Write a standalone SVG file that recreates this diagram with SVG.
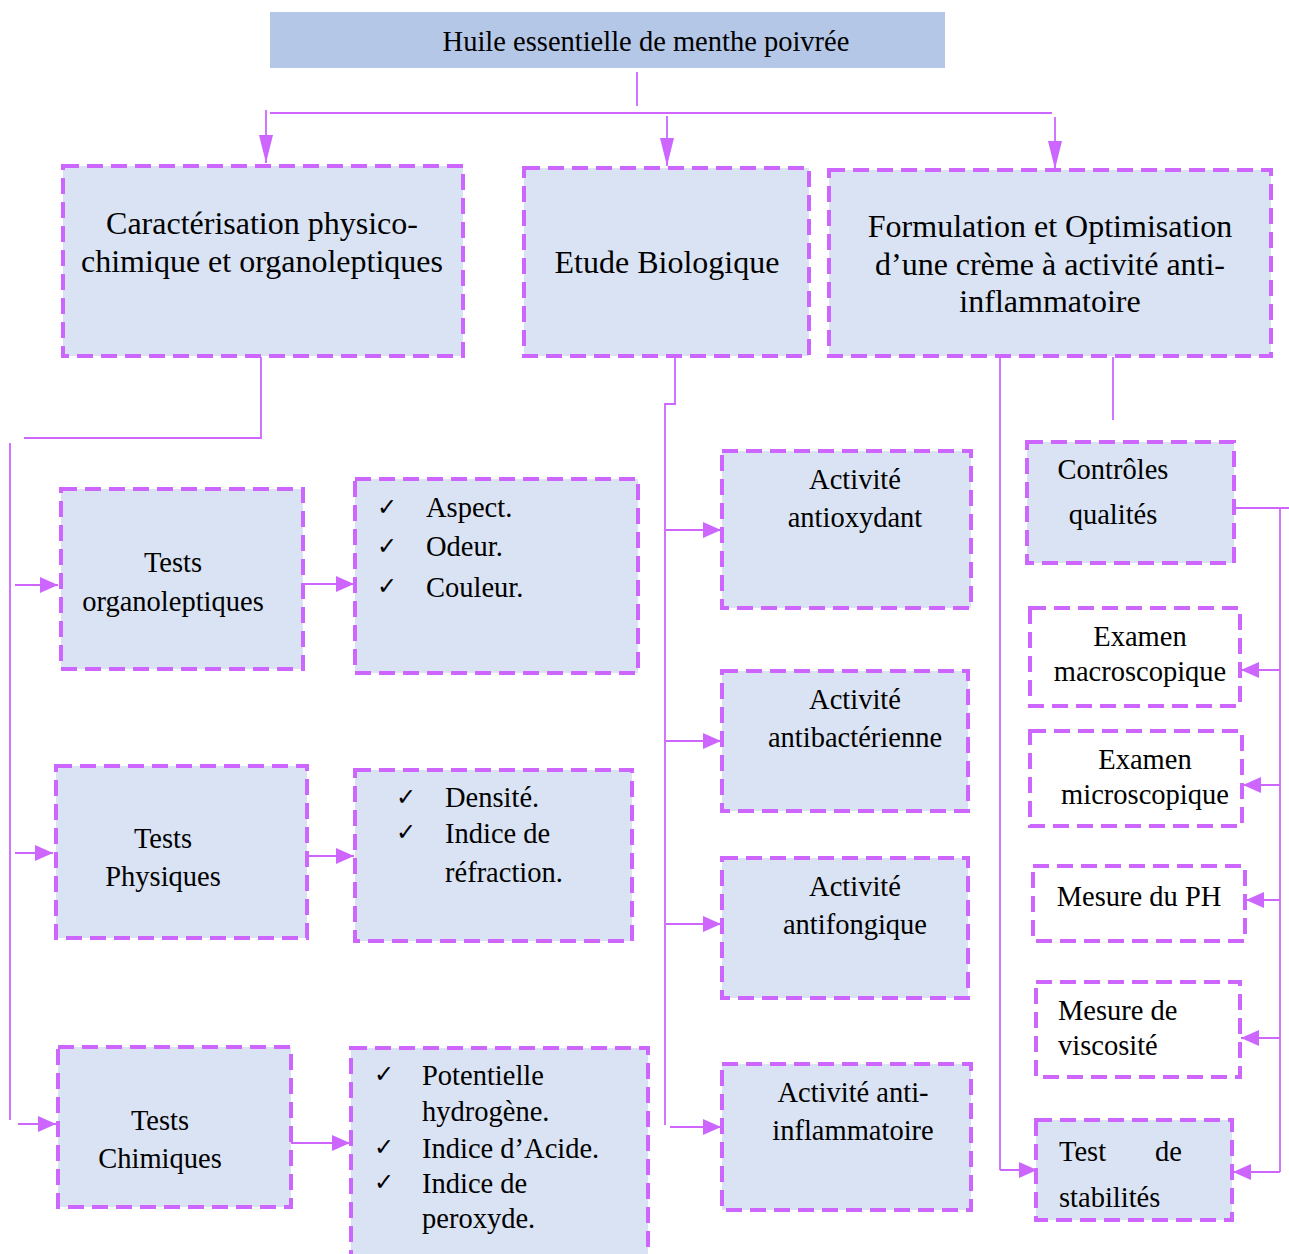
<svg xmlns="http://www.w3.org/2000/svg" width="1289" height="1254" viewBox="0 0 1289 1254">
<defs>
<style>
.box{fill:#dae3f3;stroke:#cc66ff;stroke-width:4;stroke-dasharray:16 8;}
.wbox{fill:#ffffff;stroke:#cc66ff;stroke-width:4;stroke-dasharray:16 8;}
.ln{fill:none;stroke:#cc66ff;stroke-width:1.8;}
.t{font-family:"Liberation Serif","Times New Roman",serif;fill:#000;}
.t1{font-size:32px;text-anchor:middle;}
.t2{font-size:28.5px;text-anchor:middle;}
.tl{font-size:28.5px;}
.ck{font-family:"DejaVu Sans",sans-serif;font-size:24px;fill:#000;}
</style>
<marker id="av" viewBox="0 0 10 10" refX="10" refY="5" markerWidth="28" markerHeight="14" markerUnits="userSpaceOnUse" orient="auto" preserveAspectRatio="none"><path d="M0,0 L10,5 L0,10 z" fill="#cc66ff"/></marker>
<marker id="ah" viewBox="0 0 10 10" refX="10" refY="5" markerWidth="18" markerHeight="16" markerUnits="userSpaceOnUse" orient="auto" preserveAspectRatio="none"><path d="M0,0 L10,5 L0,10 z" fill="#cc66ff"/></marker>
</defs>
<rect width="1289" height="1254" fill="#ffffff"/>

<g id="connectors">
<line class="ln" x1="637" y1="72" x2="637" y2="106"/>
<line class="ln" x1="270" y1="113" x2="1052" y2="113"/>
<line class="ln" x1="266" y1="110" x2="266" y2="163" marker-end="url(#av)"/>
<line class="ln" x1="667" y1="116" x2="667" y2="166" marker-end="url(#av)"/>
<line class="ln" x1="1055" y1="117" x2="1055" y2="169" marker-end="url(#av)"/>
<polyline class="ln" points="261,357 261,438 24,438"/>
<line class="ln" x1="10" y1="443" x2="10" y2="1120"/>
<line class="ln" x1="15" y1="585" x2="58" y2="585" marker-end="url(#ah)"/>
<line class="ln" x1="15" y1="853" x2="53" y2="853" marker-end="url(#ah)"/>
<line class="ln" x1="18" y1="1124" x2="56" y2="1124" marker-end="url(#ah)"/>
<line class="ln" x1="303" y1="584" x2="354" y2="584" marker-end="url(#ah)"/>
<line class="ln" x1="307" y1="856" x2="354" y2="856" marker-end="url(#ah)"/>
<line class="ln" x1="291" y1="1143" x2="350" y2="1143" marker-end="url(#ah)"/>
<polyline class="ln" points="675,357 675,404 665,404 665,1125"/>
<line class="ln" x1="666" y1="530" x2="721" y2="530" marker-end="url(#ah)"/>
<line class="ln" x1="666" y1="741" x2="721" y2="741" marker-end="url(#ah)"/>
<line class="ln" x1="666" y1="924" x2="721" y2="924" marker-end="url(#ah)"/>
<line class="ln" x1="670" y1="1127" x2="721" y2="1127" marker-end="url(#ah)"/>
<line class="ln" x1="1000" y1="357" x2="1000" y2="1170"/>
<line class="ln" x1="1000" y1="1170" x2="1037" y2="1170" stroke-width="3" marker-end="url(#ah)"/>
<line class="ln" x1="1113" y1="357" x2="1113" y2="420"/>
<polyline class="ln" points="1235,508 1289,508"/>
<line class="ln" x1="1280" y1="508" x2="1280" y2="1172"/>
<line class="ln" x1="1280" y1="670" x2="1241" y2="670" marker-end="url(#ah)"/>
<line class="ln" x1="1280" y1="785" x2="1243" y2="785" marker-end="url(#ah)"/>
<line class="ln" x1="1280" y1="900" x2="1246" y2="900" marker-end="url(#ah)"/>
<line class="ln" x1="1280" y1="1038" x2="1241" y2="1038" marker-end="url(#ah)"/>
<line class="ln" x1="1280" y1="1172" x2="1233" y2="1172" marker-end="url(#ah)"/>
</g>

<g id="n-root">
<rect x="270" y="12" width="675" height="56" fill="#b4c7e7"/>
<text class="t" x="646" y="51" font-size="28.5" text-anchor="middle">Huile essentielle de menthe poivrée</text>
</g>

<g id="n-caract">
<rect class="box" x="63" y="166" width="400" height="190"/>
<text class="t t1" x="262" y="234">Caractérisation physico-</text>
<text class="t t1" x="262" y="272">chimique et organoleptiques</text>
</g>
<g id="n-bio">
<rect class="box" x="524" y="168" width="285" height="188"/>
<text class="t t1" x="667" y="273">Etude Biologique</text>
</g>
<g id="n-form">
<rect class="box" x="829" y="170" width="442" height="186"/>
<text class="t t1" x="1050" y="237">Formulation et Optimisation</text>
<text class="t t1" x="1050" y="275">d’une crème à activité anti-</text>
<text class="t t1" x="1050" y="312">inflammatoire</text>
</g>

<g id="n-organo">
<rect class="box" x="61" y="489" width="242" height="180"/>
<text class="t t2" x="173" y="572">Tests</text>
<text class="t t2" x="173" y="611">organoleptiques</text>
</g>
<g id="n-list1">
<rect class="box" x="355" y="479" width="283" height="194"/>
<text class="ck" x="377" y="515">✓</text>
<text class="ck" x="377" y="554">✓</text>
<text class="ck" x="377" y="594">✓</text>
<text class="t tl" x="426" y="517">Aspect.</text>
<text class="t tl" x="426" y="556">Odeur.</text>
<text class="t tl" x="426" y="597">Couleur.</text>
</g>

<g id="n-phys">
<rect class="box" x="56" y="766" width="251" height="172"/>
<text class="t t2" x="163" y="848">Tests</text>
<text class="t t2" x="163" y="886">Physiques</text>
</g>
<g id="n-list2">
<rect class="box" x="355" y="770" width="277" height="171"/>
<text class="ck" x="396" y="805">✓</text>
<text class="ck" x="396" y="840">✓</text>
<text class="t tl" x="445" y="807">Densité.</text>
<text class="t tl" x="445" y="843">Indice de</text>
<text class="t tl" x="445" y="882">réfraction.</text>
</g>

<g id="n-chim">
<rect class="box" x="58" y="1047" width="233" height="160"/>
<text class="t t2" x="160" y="1130">Tests</text>
<text class="t t2" x="160" y="1168">Chimiques</text>
</g>
<g id="n-list3">
<rect class="box" x="351" y="1048" width="297" height="220"/>
<text class="ck" x="374" y="1082">✓</text>
<text class="ck" x="374" y="1155">✓</text>
<text class="ck" x="374" y="1190">✓</text>
<text class="t tl" x="422" y="1085">Potentielle</text>
<text class="t tl" x="422" y="1121">hydrogène.</text>
<text class="t tl" x="422" y="1158">Indice d’Acide.</text>
<text class="t tl" x="422" y="1193">Indice de</text>
<text class="t tl" x="422" y="1228">peroxyde.</text>
</g>

<g id="n-antiox">
<rect class="box" x="722" y="451" width="249" height="157"/>
<text class="t t2" x="855" y="489">Activité</text>
<text class="t t2" x="855" y="527">antioxydant</text>
</g>
<g id="n-antibac">
<rect class="box" x="722" y="671" width="246" height="140"/>
<text class="t t2" x="855" y="709">Activité</text>
<text class="t t2" x="855" y="747">antibactérienne</text>
</g>
<g id="n-antifong">
<rect class="box" x="722" y="858" width="246" height="140"/>
<text class="t t2" x="855" y="896">Activité</text>
<text class="t t2" x="855" y="934">antifongique</text>
</g>
<g id="n-antiinfl">
<rect class="box" x="722" y="1064" width="249" height="146"/>
<text class="t t2" x="853" y="1102">Activité anti-</text>
<text class="t t2" x="853" y="1140">inflammatoire</text>
</g>

<g id="n-controle">
<rect class="box" x="1027" y="442" width="207" height="121"/>
<text class="t t2" x="1113" y="479">Contrôles</text>
<text class="t t2" x="1113" y="524">qualités</text>
</g>
<g id="n-macro">
<rect class="wbox" x="1030" y="608" width="210" height="98"/>
<text class="t t2" x="1140" y="646">Examen</text>
<text class="t t2" x="1140" y="681">macroscopique</text>
</g>
<g id="n-micro">
<rect class="wbox" x="1030" y="731" width="212" height="95"/>
<text class="t t2" x="1145" y="769">Examen</text>
<text class="t t2" x="1145" y="804">microscopique</text>
</g>
<g id="n-ph">
<rect class="wbox" x="1033" y="866" width="212" height="75"/>
<text class="t t2" x="1139" y="906">Mesure du PH</text>
</g>
<g id="n-visco">
<rect class="wbox" x="1036" y="982" width="204" height="95"/>
<text class="t tl" x="1058" y="1020">Mesure de</text>
<text class="t tl" x="1058" y="1055">viscosité</text>
</g>
<g id="n-stab">
<rect class="box" x="1036" y="1120" width="196" height="100"/>
<text class="t tl" x="1059" y="1161">Test</text>
<text class="t tl" x="1182" y="1161" text-anchor="end">de</text>
<text class="t tl" x="1059" y="1207">stabilités</text>
</g>
</svg>
